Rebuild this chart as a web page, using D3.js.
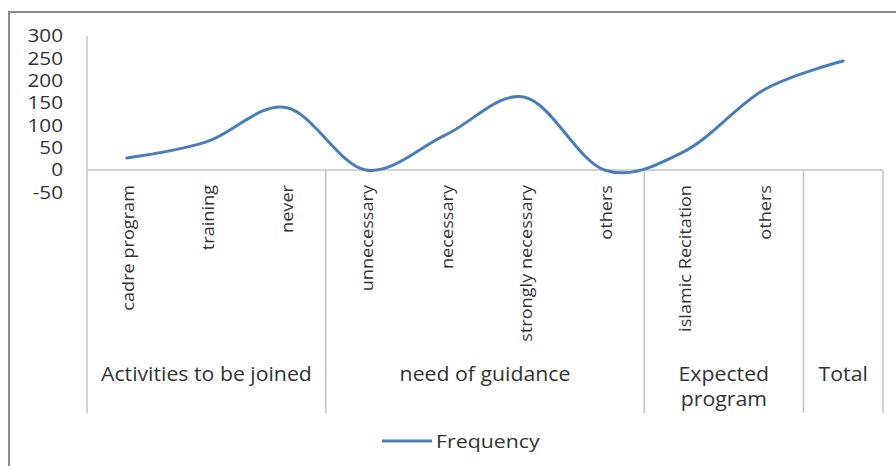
<!DOCTYPE html>
<html>
<head>
<meta charset="utf-8">
<script src="https://cdn.jsdelivr.net/npm/d3@7"></script>
<style>
  body { margin: 0; background: #fff; }
  text { font-family: "Open Sans", sans-serif; fill: #333; }
</style>
</head>
<body>
<div id="chart"></div>
<script>
// Chart data
const categories = ["cadre program", "training", "never", "unnecessary", "necessary",
  "strongly necessary", "others", "islamic Recitation", "others", "Total"];
const frequency = [27, 63, 140, 0, 78, 163, 0, 41, 179, 244];
const groupLabels = [["Activities to be joined"], ["need of guidance"], ["Expected", "program"], ["Total"]];
const groupSizes = [3, 4, 2, 1];
const yTicks = [-50, 0, 50, 100, 150, 200, 250, 300];
const seriesName = "Frequency";

const width = 896;
const height = 466;
const plotLeft = 87, plotRight = 883, plotTop = 36, plotBottom = 192.3;
const tableBottom = 413;

const svg = d3.select("#chart")
    .append("svg")
    .attr("width", width)
    .attr("height", height);

// stretch text a bit along its direction, the picture is wider than the font
function stretch(sel, k) {
    sel.each(function() {
        const len = this.getComputedTextLength();
        d3.select(this).attr("textLength", len * k).attr("lengthAdjust", "spacingAndGlyphs");
    });
}

// outer frame
svg.append("rect")
    .attr("x", 9).attr("y", 12)
    .attr("width", 1000).attr("height", 1000)
    .attr("fill", "none")
    .attr("stroke", "#8c8c8c")
    .attr("stroke-width", 2);

const x = d3.scaleBand().domain(d3.range(categories.length)).range([plotLeft, plotRight]);
const y = d3.scaleLinear().domain([-50, 300]).range([plotBottom, plotTop]);

// y axis labels (plain hyphen for negatives, like Excel)
const yAxis = d3.axisLeft(y).tickValues(yTicks).tickFormat(d => String(d)).tickSize(0).tickPadding(24);
const gy = svg.append("g")
    .attr("transform", `translate(${plotLeft},0)`)
    .call(yAxis);
gy.select(".domain").remove();
gy.selectAll("text")
    .style("font-family", "'Open Sans', sans-serif")
    .style("font-size", "18px")
    .attr("fill", "#333")
    .call(stretch, 1.15);

const gridColor = "#c4c4c4";

// vertical axis line, down through the category table
svg.append("line")
    .attr("x1", plotLeft).attr("x2", plotLeft)
    .attr("y1", y(300)).attr("y2", tableBottom)
    .attr("stroke", gridColor).attr("stroke-width", 1.5);

// zero line
svg.append("line")
    .attr("x1", plotLeft).attr("x2", plotRight)
    .attr("y1", y(0)).attr("y2", y(0))
    .attr("stroke", gridColor).attr("stroke-width", 1.5);

// group separators
let start = 0;
const bounds = [];
groupSizes.forEach(n => {
    bounds.push([start, start + n]);
    start += n;
});
bounds.forEach(b => {
    const xe = b[1] < categories.length ? x(b[1]) : plotRight;
    svg.append("line")
        .attr("x1", xe).attr("x2", xe)
        .attr("y1", y(0)).attr("y2", tableBottom)
        .attr("stroke", gridColor).attr("stroke-width", 1.5);
});

// rotated category labels (a group with one member shows only its group name)
const single = new Set(bounds.filter(b => b[1] - b[0] === 1).map(b => b[0]));
svg.append("g").selectAll("text")
    .data(categories.map((c, i) => ({ c, i })).filter(d => !single.has(d.i)))
    .enter()
    .append("text")
    .attr("transform", d => `translate(${x(d.i) + x.bandwidth() / 2 + 2},185) rotate(-90)`)
    .attr("text-anchor", "end")
    .attr("dy", "0.35em")
    .style("font-size", "15.5px")
    .text(d => d.c)
    .call(stretch, 1.17);

// group labels
bounds.forEach((b, gi) => {
    const xs = x(b[0]);
    const xe = b[1] < categories.length ? x(b[1]) : plotRight;
    const t = svg.append("text")
        .attr("x", (xs + xe) / 2)
        .attr("y", 381)
        .attr("text-anchor", "middle")
        .style("font-size", "19.5px");
    groupLabels[gi].forEach((line, li) => {
        t.append("tspan")
            .attr("x", (xs + xe) / 2)
            .attr("dy", li === 0 ? 0 : 25)
            .text(line);
    });
});
svg.selectAll("tspan").call(stretch, 1.09);

// smoothed line
const line = d3.line()
    .x((d, i) => x(i) + x.bandwidth() / 2)
    .y(d => y(d))
    .curve(d3.curveCardinal.tension(0));

svg.append("path")
    .datum(frequency)
    .attr("fill", "none")
    .attr("stroke", "#4a7ebb")
    .attr("stroke-width", 3)
    .attr("stroke-linecap", "round")
    .attr("d", line);

// legend
svg.append("line")
    .attr("x1", 382).attr("x2", 432)
    .attr("y1", 441).attr("y2", 441)
    .attr("stroke", "#4a7ebb")
    .attr("stroke-width", 3);
svg.append("text")
    .attr("x", 436)
    .attr("y", 448)
    .style("font-size", "19px")
    .text(seriesName)
    .call(stretch, 1.12);
</script>
</body>
</html>
